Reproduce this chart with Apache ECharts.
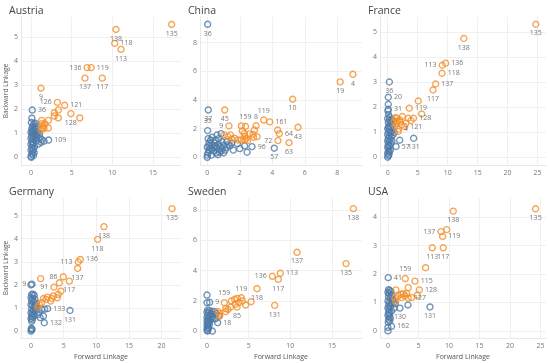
<!DOCTYPE html>
<html><head><meta charset="utf-8">
<script src="https://cdn.jsdelivr.net/npm/echarts@6/dist/echarts.min.js"></script>
<style>html,body{margin:0;padding:0;background:#fff}#c{width:550px;height:363px}</style>
</head><body><div id="c"></div>
<script>
// ---- DATA: [Forward Linkage, Backward Linkage, label] ----
const countries = ['Austria','China','France','Germany','Sweden','USA'];

const austriaHigh = [[17.3,5.54,'135'],[10.45,5.33,'138'],[10.3,4.75,'118'],[11.07,4.5,'113'],[6.9,3.74,'136'],[7.4,3.74,'119'],[6.64,3.3,'137'],[8.77,3.3,'117'],[1.23,2.88,'9'],[3.24,2.29,'126'],[4.14,2.17,'121'],[4.9,1.82,'128'],[6.0,1.64,''],[2.87,1.86,''],[3.36,1.97,''],[2.87,1.72,''],[3.36,1.64,''],[2.13,1.54,''],[1.31,1.54,''],[1.52,1.31,''],[1.72,1.39,''],[1.43,1.24,''],[2.13,1.22,''],[1.23,1.14,''],[1.6,1.2,''],[1.35,1.4,'']];
const austriaLow = [[0.16,1.97,'36'],[2.17,0.72,'109'],[0.1,1.63,''],[0.05,1.45,''],[0.2,1.3,''],[0.35,1.38,''],[0.55,1.42,''],[0.7,1.3,''],[0.1,1.2,''],[0.3,1.15,''],[0.5,1.1,''],[0.0,1.05,''],[0.2,1.0,''],[0.4,0.95,''],[0.65,0.98,''],[0.85,1.02,''],[1.05,0.95,''],[0.1,0.9,''],[0.3,0.85,''],[0.0,0.8,''],[0.2,0.75,''],[0.5,0.8,''],[0.75,0.7,''],[1.0,0.82,''],[1.3,0.75,''],[1.6,0.68,''],[0.9,0.55,''],[0.1,0.65,''],[0.3,0.6,''],[0.0,0.55,''],[0.2,0.5,''],[0.45,0.45,''],[0.1,0.4,''],[0.3,0.33,''],[0.0,0.3,''],[0.2,0.25,''],[0.4,0.2,''],[0.1,0.14,''],[0.3,0.08,''],[0.0,0.04,''],[0.05,0.0,''],[1.25,0.62,''],[0.7,0.9,''],[0.6,1.2,''],[0.15,1.1,''],[0.4,1.25,'']];

const chinaHigh = [[8.96,5.79,'4'],[8.18,5.26,'19'],[5.25,4.05,'10'],[1.07,3.3,'45'],[3.47,2.6,'119'],[3.84,2.47,'161'],[2.35,2.15,'159'],[3.0,2.2,'8'],[1.33,2.19,'9'],[4.43,1.65,'64'],[4.33,1.9,''],[5.58,2.09,'43'],[4.35,1.16,'72'],[5.03,1.02,'63'],[1.05,1.56,''],[1.42,1.56,''],[1.68,1.33,''],[1.89,1.21,''],[2.1,1.21,''],[2.15,1.84,''],[2.28,1.67,''],[2.3,1.44,''],[2.4,1.33,''],[2.6,1.63,''],[2.81,1.6,''],[2.9,1.9,''],[2.85,1.4,''],[3.06,1.44,''],[2.1,2.19,''],[2.32,1.21,''],[2.48,1.16,''],[1.27,1.44,''],[1.5,1.26,'']];
const chinaLow = [[0.02,9.28,'36'],[0.06,3.3,'37'],[0.02,1.86,'35'],[4.12,0.63,'57'],[2.75,0.74,'96'],[0,0,''],[0.0,0.15,''],[0.05,0.3,''],[0.1,0.5,''],[0.2,0.62,''],[0.3,0.55,''],[0.4,0.7,''],[0.5,0.8,''],[0.6,0.65,''],[0.7,0.9,''],[0.8,0.75,''],[0.9,0.6,''],[1.0,0.85,''],[1.1,0.5,''],[1.2,0.7,''],[1.3,0.9,''],[1.4,0.8,''],[0.1,1.0,''],[0.2,1.2,''],[0.3,1.4,''],[0.5,1.2,''],[0.7,1.3,''],[0.85,1.65,''],[0.6,1.55,''],[0.9,1.1,''],[0.0,0.7,''],[0.1,0.8,''],[0.3,0.85,''],[0.4,0.45,''],[0.55,0.3,''],[0.65,0.18,''],[0.75,0.35,''],[0.85,0.42,''],[1.0,0.3,''],[1.85,0.95,''],[2.0,0.6,''],[2.3,0.8,''],[2.45,0.35,''],[1.6,0.5,''],[1.5,1.0,''],[0.25,0.15,''],[1.2,1.1,''],[0.45,1.0,''],[0.05,1.3,'']];

const franceHigh = [[24.7,5.32,'135'],[12.7,4.75,'138'],[9.67,3.76,'136'],[9.1,3.68,'113'],[9.06,3.36,'118'],[8.0,2.93,'137'],[7.56,2.69,'117'],[3.6,1.96,'119'],[5.1,2.25,''],[5.67,1.73,''],[4.3,1.56,'128'],[1.78,1.12,'4'],[2.83,1.23,'121'],[1.5,1.56,''],[2.06,1.49,''],[2.44,1.63,''],[2.0,1.41,''],[2.33,1.29,''],[3.06,1.36,''],[3.44,1.56,''],[3.9,1.47,''],[1.78,1.03,''],[1.22,1.25,''],[1.1,1.43,''],[1.5,1.36,''],[1.3,1.58,''],[1.6,1.45,'']];
const franceLow = [[0.28,3.01,'36'],[0.1,2.4,'20'],[0.1,1.92,'31'],[1.39,0.43,'57'],[4.33,0.76,'131'],[2.0,0.68,''],[0.1,2.12,''],[0.05,1.85,''],[0.15,1.7,''],[0,1.55,''],[0.3,1.5,''],[0.6,1.45,''],[0.1,1.4,''],[0.4,1.35,''],[0.8,1.3,''],[0.2,1.25,''],[0.5,1.2,''],[0,1.15,''],[0.3,1.1,''],[0.7,1.05,''],[0.1,1.0,''],[0.45,0.95,''],[0,0.9,''],[0.25,0.85,''],[0.6,0.8,''],[0.1,0.75,''],[0.4,0.7,''],[0,0.65,''],[0.2,0.6,''],[0.5,0.55,''],[0.1,0.5,''],[0.3,0.45,''],[0,0.4,''],[0.2,0.35,''],[0.45,0.3,''],[0.1,0.25,''],[0.3,0.2,''],[0,0.15,''],[0.2,0.1,''],[0.1,0.05,''],[0,0,''],[0.9,0.9,''],[1.1,1.0,''],[0.7,0.65,''],[0.35,1.6,''],[0.55,1.0,''],[0.15,1.2,''],[0.8,1.5,'']];

const germanyHigh = [[21.6,5.3,'135'],[11.17,4.52,'138'],[10.2,3.97,'118'],[7.55,3.1,'136'],[7.24,2.99,'113'],[7.14,2.71,'137'],[4.95,2.35,'86'],[5.87,2.16,'117'],[3.52,1.9,'91'],[4.34,2.09,''],[1.48,2.27,''],[4.6,1.73,''],[4.18,1.59,''],[4.03,1.44,''],[3.42,1.52,''],[3.16,1.41,''],[3.0,1.3,''],[2.5,1.47,''],[1.9,1.41,''],[1.63,1.23,''],[1.28,1.15,''],[2.3,1.37,''],[1.0,1.04,'']];
const germanyLow = [[0.15,2.03,'9'],[2.55,0.97,'133'],[5.97,0.89,'131'],[2.04,0.36,'132'],[0,2.0,''],[0.1,1.58,''],[0.3,1.6,''],[0.5,1.55,''],[0,1.45,''],[0.25,1.4,''],[0.6,1.37,''],[0.1,1.3,''],[0.4,1.25,''],[0.8,1.2,''],[0,1.15,''],[0.2,1.1,''],[0.5,1.05,''],[0.9,1.0,''],[0.1,0.95,''],[0.35,0.9,''],[0.65,0.85,''],[0,0.8,''],[0.2,0.75,''],[0.45,0.7,''],[0.1,0.65,''],[0.3,0.6,''],[0,0.55,''],[0.2,0.5,''],[0.1,0.42,''],[0.05,0.12,''],[0.1,0.05,''],[0,0,''],[0.15,0.08,''],[1.63,0.94,''],[1.9,0.65,''],[1.4,0.58,''],[1.2,0.8,''],[2.1,0.95,''],[1.0,0.7,''],[0.7,1.1,'']];

const swedenHigh = [[17.56,8.1,'138'],[10.8,5.21,'137'],[16.68,4.46,'135'],[8.8,3.82,'113'],[7.84,3.62,'136'],[8.56,3.42,'117'],[4.12,2.2,'119'],[6.0,2.8,'118'],[5.3,1.94,''],[2.08,1.88,'159'],[3.6,1.59,'85'],[8.12,1.7,'131'],[2.92,1.99,''],[3.32,2.1,''],[3.64,2.16,''],[4.24,1.99,''],[4.64,1.72,''],[3.84,1.88,''],[3.4,1.77,''],[2.84,1.59,''],[2.52,1.43,''],[2.24,1.28,''],[2.24,1.48,''],[1.52,1.15,''],[1.32,1.28,''],[1.52,0.99,'']];
const swedenLow = [[0.32,1.9,'9'],[1.28,0.55,'18'],[0,2.38,''],[0,1.88,''],[0.64,0,''],[0.05,0,''],[0.1,1.4,''],[0.3,1.35,''],[0.6,1.3,''],[0.9,1.3,''],[0,1.25,''],[0.2,1.2,''],[0.5,1.15,''],[0.8,1.1,''],[1.1,1.15,''],[0.1,1.05,''],[0.35,1.0,''],[0.7,0.95,''],[0,0.9,''],[0.25,0.85,''],[0.55,0.8,''],[0.1,0.75,''],[0.4,0.7,''],[0,0.65,''],[0.2,0.6,''],[0.1,0.5,''],[0.3,0.45,''],[0,0.4,''],[0.15,0.35,''],[0.05,0.25,''],[0.2,0.2,''],[0,0.12,''],[0.1,0.05,''],[1.0,0.8,''],[1.4,1.0,'']];

const usaHigh = [[24.2,4.29,'135'],[10.7,4.21,'138'],[8.69,3.49,'137'],[8.96,3.32,'119'],[9.62,3.56,''],[7.27,2.92,'113'],[9.07,2.92,'117'],[6.17,2.22,''],[2.84,1.84,'159'],[4.43,1.75,'115'],[5.14,1.44,'128'],[3.33,1.15,'127'],[4.81,1.25,''],[3.33,1.52,''],[1.31,1.44,''],[1.69,1.23,''],[2.13,1.29,''],[2.51,1.31,''],[2.79,1.23,''],[3.06,1.31,''],[1.15,1.15,''],[2.24,1.17,''],[1.26,1.03,''],[3.88,1.17,'']];
const usaLow = [[0.05,1.87,'41'],[0.6,0.16,'162'],[1.97,0.8,'130'],[6.89,0.84,'131'],[3.28,0.91,''],[0,0,''],[0,0.12,''],[0.1,1.45,''],[0.3,1.42,''],[0.5,1.38,''],[0,1.35,''],[0.2,1.3,''],[0.6,1.25,''],[0.1,1.2,''],[0.4,1.15,''],[0.8,1.1,''],[0,1.05,''],[0.25,1.0,''],[0.55,0.95,''],[0.1,0.9,''],[0.4,0.85,''],[0,0.8,''],[0.2,0.75,''],[0.6,0.7,''],[0.1,0.65,''],[0.3,0.6,''],[0,0.55,''],[0.2,0.5,''],[0.4,0.45,''],[0.1,0.4,''],[0.3,0.35,''],[0.05,0.3,''],[1.0,0.8,''],[0.9,1.0,''],[1.2,0.95,'']];

const xTicks = {Austria:[0,5,10,15], China:[0,2,4,6,8], France:[0,5,10,15,20,25], Germany:[0,5,10,15,20], Sweden:[0,5,10,15], USA:[0,5,10,15,20,25]};
const yTicks = {Austria:[0,1,2,3,4,5], China:[0,2,4,6,8], France:[0,1,2,3,4,5], Germany:[0,1,2,3,4,5], Sweden:[0,2,4,6,8], USA:[0,1,2,3,4]};

// ---- LAYOUT / STYLE ----
const sets = {Austria:[austriaLow,austriaHigh], China:[chinaLow,chinaHigh], France:[franceLow,franceHigh], Germany:[germanyLow,germanyHigh], Sweden:[swedenLow,swedenHigh], USA:[usaLow,usaHigh]};
const panels = {
  Austria:{left:21,top:17,width:160,height:148,x:[-1.23,18.45],y:[-0.32,5.85]},
  China:{left:200,top:17,width:162,height:148,x:[-0.45,9.52],y:[-0.54,9.79]},
  France:{left:380,top:17,width:166,height:148,x:[-1.28,26.4],y:[-0.31,5.61]},
  Germany:{left:21,top:198,width:160,height:140,x:[-1.53,22.97],y:[-0.3,5.76]},
  Sweden:{left:200,top:198,width:162,height:140,x:[-0.84,18.6],y:[-0.46,8.8]},
  USA:{left:380,top:198,width:166,height:140,x:[-1.3,25.9],y:[-0.25,4.67]}
};
const labelSide = {
  Austria:{left:['136','126'],bottom:['135','138','113','137','117','9','128']},
  China:{left:['9','72'],top:['119','159','8','35'],bottom:['36','4','19','10','37','45','43','63','57']},
  France:{left:['113'],bottom:['135','138','117','36','131']},
  Germany:{left:['113','86','91','9'],bottom:['135','138','118','137','117','131']},
  Sweden:{left:['136'],top:['159','119'],bottom:['138','137','135','117','85','131','118']},
  USA:{left:['137'],top:['159'],bottom:['135','138','113','117','131','130']}
};
const colors = ['#4e79a7','#f28e2b'];

function side(c, lbl){
  const s = labelSide[c];
  for (const k of ['left','top','bottom']) if (s[k] && s[k].includes(lbl)) return k;
  return 'right';
}

const grid=[], xAxis=[], yAxis=[], series=[], title=[];
countries.forEach((c,i)=>{
  const p = panels[c];
  grid.push({left:p.left, top:p.top, width:p.width, height:p.height});
  title.push({text:c, left:p.left-17, top:p.top-16, textStyle:{fontSize:10.5, fontWeight:'normal', color:'#444', fontFamily:'Open Sans'}});
  const bottomRow = i>=3, leftCol = i%3===0;
  xAxis.push({type:'value', gridIndex:i, min:p.x[0], max:p.x[1],
    name: bottomRow ? 'Forward Linkage' : '', nameLocation:'middle', nameGap:15,
    nameTextStyle:{fontSize:7, color:'#555', fontFamily:'Open Sans'},
    axisLine:{show:true, onZero:false, lineStyle:{color:'#e8e8e8'}},
    axisTick:{show:false, customValues:xTicks[c]},
    axisLabel:{customValues:xTicks[c], fontSize:7, color:'#777', margin:4, fontFamily:'Open Sans'},
    splitLine:{show:true, lineStyle:{color:'#f0f0f0'}}});
  yAxis.push({type:'value', gridIndex:i, min:p.y[0], max:p.y[1],
    name: leftCol ? 'Backward Linkage' : '', nameLocation:'middle', nameGap:9, nameRotate:90,
    nameTextStyle:{fontSize:6.5, color:'#555', fontFamily:'Open Sans'},
    axisLine:{show:true, onZero:false, lineStyle:{color:'#e8e8e8'}},
    axisTick:{show:false, customValues:yTicks[c]},
    axisLabel:{customValues:yTicks[c], fontSize:7, color:'#777', margin:3, fontFamily:'Open Sans'},
    splitLine:{show:true, lineStyle:{color:'#f0f0f0'}}});
  sets[c].forEach((arr,j)=>{
    series.push({type:'scatter', xAxisIndex:i, yAxisIndex:i, symbol:'circle', symbolSize:6,
      itemStyle:{color:'rgba(255,255,255,0)', borderColor:colors[j], borderWidth:1.4},
      label:{show:false},
      emphasis:{disabled:true},
      data: arr.map(d=>({value:[d[0],d[1]],
        label: d[2] ? {show:true, formatter:d[2], position:side(c,d[2]), distance:2, fontSize:7, color:'#555', fontFamily:'Open Sans'} : {show:false}}))
    });
  });
});

const chart = echarts.init(document.getElementById('c'), null, {renderer:'canvas'});
chart.setOption({animation:false, backgroundColor:'#fff', title, grid, xAxis, yAxis, series});
</script></body></html>
